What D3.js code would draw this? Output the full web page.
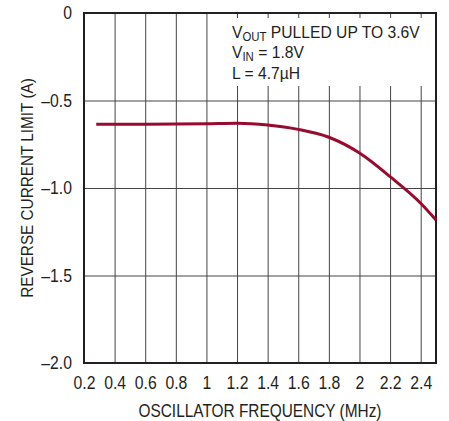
<!DOCTYPE html>
<html>
<head>
<meta charset="utf-8">
<script src="https://cdn.jsdelivr.net/npm/d3@7"></script>
<style>
  body { margin: 0; background: #fff; }
  text { font-family: "Liberation Sans Narrow", "Arial Narrow", "Liberation Sans", sans-serif; fill: #231f20; }
</style>
</head>
<body>
<div id="chart"></div>
<script>
// oscillator frequency (MHz) vs reverse current limit (A)
var freq = [0.28, 0.6, 1.0, 1.2, 1.4, 1.6, 1.8, 2.0, 2.2, 2.4, 2.5];
var current = [-0.636, -0.636, -0.633, -0.630, -0.640, -0.665, -0.71, -0.80, -0.935, -1.087, -1.183];

var xTicks = [0.2, 0.4, 0.6, 0.8, 1, 1.2, 1.4, 1.6, 1.8, 2, 2.2, 2.4];
var yTicks = [0, -0.5, -1.0, -1.5, -2.0];
var yLabels = ["0", "\u20130.5", "\u20131.0", "\u20131.5", "\u20132.0"];

var margin = {top: 13, right: 13, bottom: 58, left: 84},
    width = 449 - margin.left - margin.right,
    height = 421 - margin.top - margin.bottom;

var x = d3.scaleLinear().domain([0.2, 2.5]).range([0, width]);
var y = d3.scaleLinear().domain([-2, 0]).range([height, 0]);

// squeeze text horizontally, the original uses a condensed face
function condense(sel, f) {
  sel.each(function() {
    var w = this.getComputedTextLength();
    d3.select(this).attr("textLength", w * f).attr("lengthAdjust", "spacingAndGlyphs");
  });
}

var svg = d3.select("#chart").append("svg")
    .attr("width", 449)
    .attr("height", 421)
  .append("g")
    .attr("transform", "translate(" + margin.left + "," + margin.top + ")");

// vertical grid
svg.append("g")
    .attr("transform", "translate(0," + height + ")")
    .call(d3.axisBottom(x).tickValues(xTicks.slice(1)).tickSize(-height).tickFormat(""))
    .call(function(g) {
      g.select(".domain").remove();
      g.selectAll("line").attr("stroke", "#444").attr("stroke-width", 1);
    });

// horizontal grid
svg.append("g")
    .call(d3.axisLeft(y).tickValues([-0.5, -1.0, -1.5]).tickSize(-width).tickFormat(""))
    .call(function(g) {
      g.select(".domain").remove();
      g.selectAll("line").attr("stroke", "#444").attr("stroke-width", 1);
    });

// white box behind the note
svg.append("rect")
    .attr("x", x(1.16))
    .attr("y", 5)
    .attr("width", width - x(1.16) - 1)
    .attr("height", 68)
    .attr("fill", "#fff");

// frame
svg.append("rect")
    .attr("width", width)
    .attr("height", height)
    .attr("fill", "none")
    .attr("stroke", "#231f20")
    .attr("stroke-width", 2);

// x tick labels
svg.append("g")
    .attr("transform", "translate(0," + height + ")")
    .call(d3.axisBottom(x).tickValues(xTicks).tickSize(0).tickPadding(14)
      .tickFormat(function(d) { return String(d); }))
    .call(function(g) {
      g.select(".domain").remove();
      g.selectAll("text").attr("font-size", 17.5).style("font-family", null)
        .call(condense, 0.9);
    });

// y tick labels
svg.append("g")
    .call(d3.axisLeft(y).tickValues(yTicks).tickSize(0).tickPadding(12)
      .tickFormat(function(d, i) { return yLabels[i]; }))
    .call(function(g) {
      g.select(".domain").remove();
      g.selectAll("text").attr("font-size", 17.5).style("font-family", null)
        .call(condense, 0.9);
    });

// curve
var line = d3.line()
    .x(function(d) { return x(d[0]); })
    .y(function(d) { return y(d[1]); })
    .curve(d3.curveMonotoneX);

svg.append("path")
    .datum(d3.zip(freq, current))
    .attr("fill", "none")
    .attr("stroke", "#980a2e")
    .attr("stroke-width", 3)
    .attr("d", line);

// note
var note = svg.append("g")
    .attr("font-size", 16.5)
    .attr("transform", "translate(148,0) scale(0.95,1)");
var t1 = note.append("text").attr("y", 25);
t1.append("tspan").text("V");
t1.append("tspan").attr("font-size", 12).attr("dy", 3.5).text("OUT");
t1.append("tspan").attr("dy", -3.5).text(" PULLED UP TO 3.6V");
var t2 = note.append("text").attr("y", 45);
t2.append("tspan").text("V");
t2.append("tspan").attr("font-size", 12).attr("dy", 3.5).text("IN");
t2.append("tspan").attr("dy", -3.5).text(" = 1.8V");
note.append("text").attr("y", 66.5).text("L = 4.7\u00b5H");

// axis titles
svg.append("text")
    .attr("x", width / 2)
    .attr("y", height + 54)
    .attr("text-anchor", "middle")
    .attr("font-size", 17.5)
    .text("OSCILLATOR FREQUENCY (MHz)")
    .call(condense, 0.88);

svg.append("text")
    .attr("transform", "translate(-51," + (height / 2) + ") rotate(-90)")
    .attr("text-anchor", "middle")
    .attr("font-size", 17)
    .text("REVERSE CURRENT LIMIT (A)")
    .call(condense, 0.9);
</script>
</body>
</html>
